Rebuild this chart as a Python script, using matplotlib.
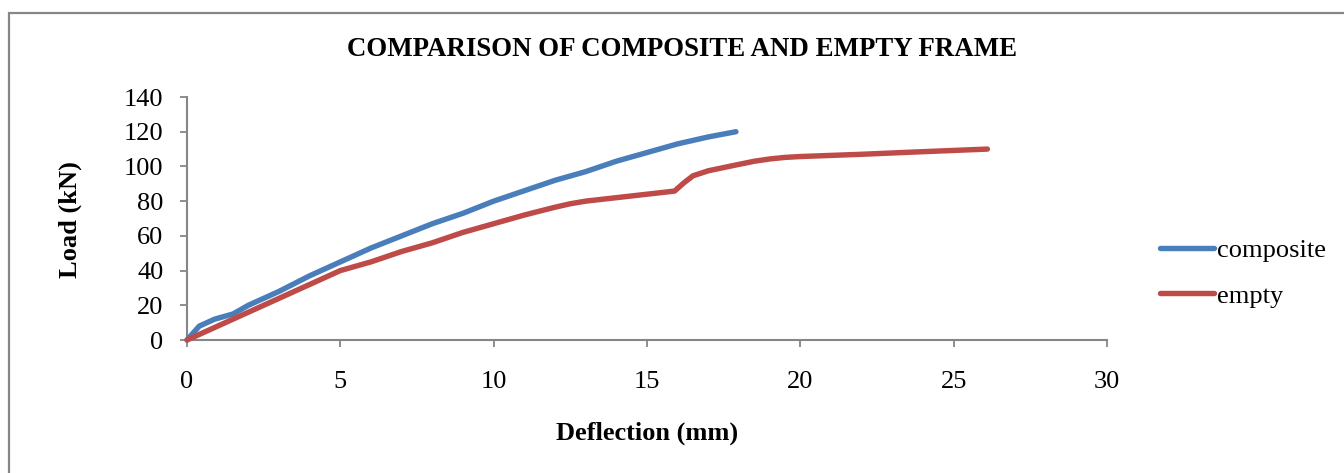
import matplotlib
matplotlib.use("Agg")
import matplotlib.pyplot as plt
from matplotlib.lines import Line2D
from matplotlib.patches import Rectangle

plt.rcParams['font.family'] = ['Liberation Serif', 'DejaVu Serif']

# Data
composite_x = [0, 0.4, 0.9, 1.5, 2.0, 3, 4, 5, 6, 7, 8, 9, 10, 11, 12, 13, 14, 15, 16, 17, 17.9]
composite_y = [0, 8, 12, 15, 20, 28, 37, 45, 53, 60, 67, 73, 80, 86, 92, 97, 103, 108, 113, 117, 120]

empty_x = [0, 1, 2, 3, 4, 5, 6, 7, 8, 9, 10, 11, 12, 12.5, 13, 13.5, 14, 15, 15.9, 16.2, 16.5, 17,
           18, 18.5, 19, 19.5, 20, 22, 24, 26.1]
empty_y = [0, 8, 16, 24, 32, 40, 45, 51, 56, 62, 67, 72, 76.5, 78.5, 80, 81, 82, 84, 85.8, 90.5, 94.6, 97.5,
           101.2, 103, 104.3, 105.2, 105.7, 107, 108.5, 110]

x_ticks = [0, 5, 10, 15, 20, 25, 30]
y_ticks = [0, 20, 40, 60, 80, 100, 120, 140]

title = "COMPARISON OF COMPOSITE AND EMPTY FRAME"
x_label = "Deflection (mm)"
y_label = "Load (kN)"
series_names = ["composite", "empty"]

W, H = 1344, 473
fig = plt.figure(figsize=(W / 100, H / 100), dpi=100)

# outer chart border
fig.patches.append(Rectangle((9 / W, -0.1), 1.2, 1.1 - 13 / H, transform=fig.transFigure,
                             fill=False, edgecolor='#868686', linewidth=1.6))

ax = fig.add_axes([187 / W, 1 - 340 / H, (1107 - 187) / W, (340 - 97) / H])

blue = '#4A7EBB'
red = '#BE4B48'
ax.plot(composite_x, composite_y, color=blue, lw=3.9, solid_capstyle='round',
        solid_joinstyle='round', clip_on=False, zorder=3)
ax.plot(empty_x, empty_y, color=red, lw=3.9, solid_capstyle='round',
        solid_joinstyle='round', clip_on=False, zorder=3)

ax.set_xlim(0, 30)
ax.set_ylim(0, 140)
ax.set_xticks(x_ticks)
ax.set_yticks(y_ticks)
ax.tick_params(axis='both', direction='out', length=5, width=1.3, color='#868686', labelsize=19)
ax.tick_params(axis='x', pad=17)
ax.tick_params(axis='y', pad=12)
for s in ['top', 'right']:
    ax.spines[s].set_visible(False)
for s in ['left', 'bottom']:
    ax.spines[s].set_color('#868686')
    ax.spines[s].set_linewidth(1.5)

fig.text(682 / W, 1 - 50 / H, title, ha='center', va='center', fontsize=19.4, fontweight='bold')
fig.text(647 / W, 1 - 433 / H, x_label, ha='center', va='center', fontsize=19, fontweight='bold')
fig.text(70 / W, 1 - 220 / H, y_label, ha='center', va='center', fontsize=19, fontweight='bold', rotation=90)

handles = [Line2D([], [], color=blue, lw=3.9, solid_capstyle='round'),
           Line2D([], [], color=red, lw=3.9, solid_capstyle='round')]
fig.legend(handles, series_names, loc='center left', bbox_to_anchor=(1160 / W, 1 - 273 / H),
           frameon=False, fontsize=19, handlelength=2.05, handletextpad=0.1, labelspacing=0.85,
           borderpad=0, borderaxespad=0)

fig.savefig("out.png", dpi=100, facecolor='white')
